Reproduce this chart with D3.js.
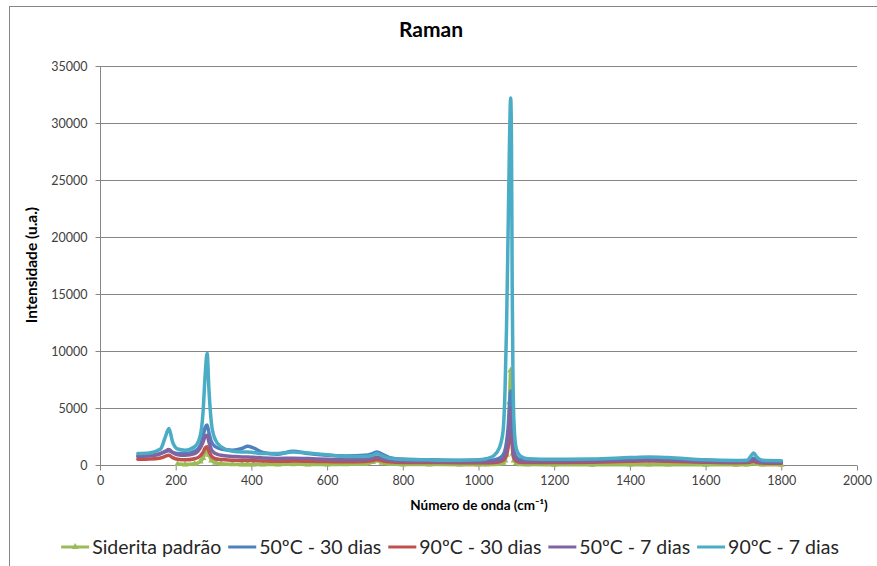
<!DOCTYPE html>
<html>
<head>
<meta charset="utf-8">
<script src="https://cdn.jsdelivr.net/npm/d3@7"></script>
<style>
  html, body { margin: 0; padding: 0; background: #fff; }
  svg { display: block; }
  text { font-family: Lato, "Open Sans", "Liberation Sans", sans-serif; }
</style>
</head>
<body>
<svg id="chart" width="877" height="566"></svg>
<script>
// ---------- DATA ----------
const title = "Raman";
const xTitle = "Número de onda (cm⁻¹)";
const yTitle = "Intensidade (u.a.)";
const seriesNames = ["Siderita padrão", "50ºC - 30 dias", "90ºC - 30 dias", "50ºC - 7 dias", "90ºC - 7 dias"];
const seriesColors = ["#9BBB59", "#4F81BD", "#C0504D", "#8064A2", "#4BACC6"];
const xTicks = [0, 200, 400, 600, 800, 1000, 1200, 1400, 1600, 1800, 2000];
const yTicks = [0, 5000, 10000, 15000, 20000, 25000, 30000, 35000];

const wavenumbers = [100, 130, 160, 172, 182, 192, 205, 225, 250, 265, 272, 278, 283, 288, 295, 305, 320, 350, 375, 390, 405, 430, 470, 510, 550, 600, 650, 700, 720, 732, 745, 765, 800, 870, 950, 1000,
  1020, 1040, 1055, 1065, 1070, 1074, 1078, 1082, 1085, 1087, 1089, 1091, 1094, 1100, 1110, 1130,
  1200, 1300, 1400, 1450, 1500, 1600, 1680, 1710, 1720, 1727, 1735, 1750, 1800];

const sideritaPadrao = [null, null, null, null, null, null, 80, 50, 100, 300, 600, 1100, 1400, 900, 400, 200, 100, 60, 40, 40, 40, 40, 50, 60, 50, 50, 60, 80, 250, 400, 200, 80, 50, 40, 30, 30,
  50, 60, 100, 200, 400, 900, 2000, 5500, 8300, 6000, 2500, 1000, 400, 150, 60, 40,
  20, 20, 30, 30, 30, 20, 20, 30, 120, 200, 100, 30, 20];

const c50d30 = [800, 850, 1000, 1150, 1250, 1100, 1000, 1000, 1200, 1700, 2500, 3300, 3500, 2800, 2000, 1600, 1400, 1300, 1450, 1650, 1500, 1100, 950, 1200, 1000, 850, 800, 850, 1000, 1150, 950, 650, 500, 450, 400, 400,
  400, 450, 600, 900, 1300, 2000, 3200, 5200, 6500, 5600, 3500, 2000, 1200, 700, 500, 450,
  420, 450, 550, 620, 560, 420, 350, 380, 500, 600, 450, 330, 300];

const c90d30 = [500, 520, 620, 750, 850, 650, 500, 450, 550, 800, 1100, 1500, 1600, 1200, 750, 550, 480, 420, 400, 400, 380, 350, 330, 340, 320, 300, 280, 300, 400, 480, 380, 280, 230, 220, 200, 200,
  200, 220, 280, 400, 600, 900, 1500, 2700, 3500, 2900, 1800, 1000, 600, 350, 250, 220,
  220, 250, 330, 350, 330, 240, 200, 210, 280, 330, 240, 180, 150];

const c50d7 = [750, 800, 1000, 1200, 1350, 1100, 900, 850, 1000, 1500, 2000, 2500, 2600, 2000, 1300, 1000, 850, 750, 700, 700, 680, 620, 580, 600, 560, 500, 460, 480, 600, 700, 580, 420, 350, 320, 300, 300,
  300, 330, 400, 600, 900, 1400, 2300, 3900, 5000, 4200, 2600, 1500, 900, 500, 350, 320,
  320, 350, 420, 450, 430, 330, 280, 300, 380, 450, 330, 250, 220];

const c90d7 = [1000, 1050, 1400, 2400, 3200, 2000, 1400, 1300, 1600, 2600, 4500, 8000, 9800, 6500, 3500, 2200, 1600, 1200, 1150, 1150, 1100, 1000, 1000, 1150, 1050, 900, 750, 750, 850, 1000, 800, 600, 500, 450, 420, 450,
  550, 800, 1500, 3000, 6500, 12000, 20000, 28500, 32200, 29000, 16000, 8000, 3500, 1400, 800, 550,
  500, 520, 650, 700, 650, 450, 400, 420, 800, 1050, 700, 420, 380];

const seriesValues = [sideritaPadrao, c50d30, c90d30, c50d7, c90d7];

// ---------- LAYOUT ----------
const svg = d3.select("#chart");
const plot = { left: 100, right: 857, top: 66, bottom: 465 };
const gridColor = "#868686";

svg.append("rect").attr("x", 9.5).attr("y", 6.5).attr("width", 920).attr("height", 620)
  .attr("fill", "#fff").attr("stroke", gridColor).attr("stroke-width", 1);

const x = d3.scaleLinear().domain([0, 2000]).range([plot.left, plot.right]);
const y = d3.scaleLinear().domain([0, 35000]).range([plot.bottom, plot.top]);

// gridlines
svg.append("g").selectAll("line").data(yTicks.filter(d => d > 0)).join("line")
  .attr("x1", plot.left).attr("x2", plot.right)
  .attr("y1", d => Math.round(y(d)) + 0.5).attr("y2", d => Math.round(y(d)) + 0.5)
  .attr("stroke", gridColor).attr("stroke-width", 1);

// axes
const yAxis = d3.axisLeft(y).tickValues(yTicks).tickSize(5).tickPadding(8).tickFormat(d3.format("d"));
const xAxis = d3.axisBottom(x).tickValues(xTicks).tickSize(5).tickPadding(6).tickFormat(d3.format("d"));

const gy = svg.append("g").attr("transform", `translate(${plot.left + 0.5},0)`).call(yAxis);
const gx = svg.append("g").attr("transform", `translate(0,${plot.bottom + 0.5})`).call(xAxis);
[gx, gy].forEach(g => {
  g.select(".domain").attr("stroke", gridColor);
  g.selectAll(".tick line").attr("stroke", gridColor);
  g.selectAll(".tick text").attr("fill", "#404040").style("font-size", "12.5px")
    .style("font-family", "Lato, 'Open Sans', sans-serif");
});
gx.select(".domain").attr("d", `M${plot.left},0H${plot.right}`);
gy.select(".domain").attr("d", `M0,${plot.top}V${plot.bottom}`);

// lines
const points = seriesValues.map(vals => wavenumbers.map((w, i) => ({ x: w, y: vals[i] })));
const line = d3.line().defined(d => d.y !== null).x(d => x(d.x)).y(d => y(d.y)).curve(d3.curveMonotoneX);

const gLines = svg.append("g");
points.forEach((pts, i) => {
  gLines.append("path").datum(pts)
    .attr("d", line).attr("fill", "none")
    .attr("stroke", seriesColors[i]).attr("stroke-width", 3.5)
    .attr("stroke-linejoin", "round").attr("stroke-linecap", "round");
  if (i === 0) {
    gLines.append("g").selectAll("path").data(pts.filter(d => d.y !== null)).join("path")
      .attr("d", d3.symbol(d3.symbolTriangle, 20))
      .attr("transform", d => `translate(${x(d.x)},${y(d.y)})`)
      .attr("fill", seriesColors[0]);
  }
});

// titles
svg.append("text").attr("x", 431).attr("y", 37).attr("text-anchor", "middle")
  .style("font-size", "21px").style("font-weight", "bold").attr("fill", "#000").text(title);
svg.append("text").attr("x", 479).attr("y", 510).attr("text-anchor", "middle")
  .style("font-size", "13.5px").style("font-weight", "bold").attr("fill", "#000").text(xTitle);
svg.append("text").attr("transform", "translate(37,265) rotate(-90)").attr("text-anchor", "middle")
  .style("font-size", "15.5px").style("font-weight", "bold").attr("fill", "#000").text(yTitle);

// legend
const legend = svg.append("g");
const legendY = 547;
const lineLen = 28, linePad = 3, itemGap = 7;
const items = seriesNames.map((name, i) => {
  const g = legend.append("g");
  g.append("line").attr("x1", 0).attr("x2", lineLen).attr("y1", 0).attr("y2", 0)
    .attr("stroke", seriesColors[i]).attr("stroke-width", 3);
  if (i === 0) {
    g.append("path").attr("d", d3.symbol(d3.symbolTriangle, 20)).attr("transform", `translate(${lineLen / 2},0)`)
      .attr("fill", seriesColors[i]);
  }
  const t = g.append("text").attr("x", lineLen + linePad).attr("y", 0).attr("dy", "0.35em")
    .style("font-size", "19.5px").attr("fill", "#262626").text(name);
  return { g, w: lineLen + linePad + t.node().getComputedTextLength() };
});
const total = d3.sum(items, d => d.w) + itemGap * (items.length - 1);
let cx = 450 - total / 2;
items.forEach(it => { it.g.attr("transform", `translate(${cx},${legendY})`); cx += it.w + itemGap; });
</script>
</body>
</html>
